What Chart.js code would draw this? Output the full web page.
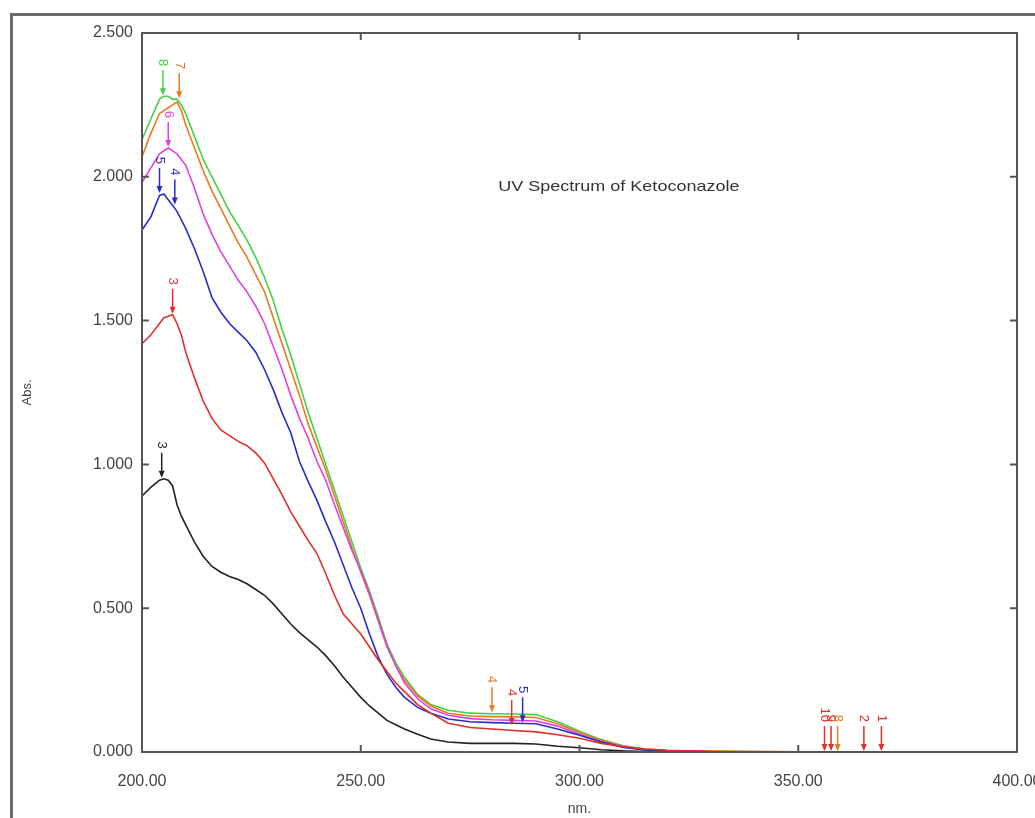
<!DOCTYPE html>
<html>
<head>
<meta charset="utf-8">
<script src="https://cdn.jsdelivr.net/npm/chart.js@4/dist/chart.umd.min.js"></script>
<style>
    html, body { margin: 0; padding: 0; background: #fff; }
    #wrap { width: 1035px; height: 818px; position: relative; }
</style>
</head>
<body>
<div id="wrap"><canvas id="chart" width="1035" height="818"></canvas></div>
<script>
// wavelength grid (nm) shared by all six spectra
const wavelengths = [200, 202, 204, 205, 206, 207, 208, 209, 210, 212, 214, 216, 218, 220, 222, 224, 226, 228, 230,
    232, 234, 236, 238, 240, 242, 244, 246, 248, 250, 252, 254, 256, 258, 260, 263, 266, 270, 275, 280, 285, 290,
    295, 300, 305, 310, 315, 320, 330, 340, 350]

const absBlack = [0.89, 0.92, 0.945, 0.95, 0.945, 0.925, 0.86, 0.82, 0.79, 0.73, 0.68, 0.645, 0.625, 0.61, 0.60, 0.585, 0.565, 0.545, 0.515,
    0.48, 0.445, 0.415, 0.39, 0.365, 0.335, 0.30, 0.26, 0.225, 0.19, 0.16, 0.135, 0.11, 0.095, 0.08, 0.062, 0.045, 0.035, 0.03, 0.03, 0.03, 0.028,
    0.02, 0.015, 0.008, 0.004, 0.002, 0.001, 0, 0, 0]
const absRed = [1.42, 1.45, 1.49, 1.51, 1.515, 1.52, 1.49, 1.45, 1.39, 1.30, 1.22, 1.16, 1.12, 1.10, 1.08, 1.065, 1.04, 1.005, 0.95,
    0.895, 0.835, 0.785, 0.735, 0.69, 0.62, 0.545, 0.48, 0.445, 0.41, 0.365, 0.32, 0.28, 0.24, 0.21, 0.165, 0.135, 0.10, 0.085, 0.08, 0.075, 0.07,
    0.06, 0.048, 0.03, 0.018, 0.01, 0.006, 0.002, 0, 0]
const absBlue = [1.815, 1.86, 1.935, 1.94, 1.92, 1.90, 1.88, 1.85, 1.82, 1.75, 1.67, 1.58, 1.53, 1.49, 1.46, 1.43, 1.39, 1.33, 1.26,
    1.18, 1.11, 1.01, 0.94, 0.875, 0.80, 0.73, 0.65, 0.57, 0.50, 0.41, 0.33, 0.27, 0.225, 0.19, 0.155, 0.135, 0.115, 0.105, 0.102, 0.10, 0.098,
    0.08, 0.058, 0.035, 0.016, 0.007, 0.003, 0.001, 0, 0]
const absMagenta = [1.98, 2.03, 2.08, 2.09, 2.10, 2.09, 2.08, 2.06, 2.04, 1.96, 1.87, 1.80, 1.74, 1.69, 1.64, 1.60, 1.55, 1.49, 1.41,
    1.33, 1.24, 1.16, 1.09, 1.01, 0.945, 0.86, 0.78, 0.70, 0.63, 0.55, 0.46, 0.37, 0.30, 0.24, 0.185, 0.15, 0.128, 0.116, 0.112, 0.11, 0.108,
    0.09, 0.062, 0.036, 0.018, 0.008, 0.004, 0.001, 0, 0]
const absOrange = [2.07, 2.15, 2.22, 2.23, 2.24, 2.25, 2.26, 2.23, 2.18, 2.10, 2.02, 1.95, 1.89, 1.83, 1.77, 1.72, 1.66, 1.60, 1.51,
    1.42, 1.33, 1.24, 1.14, 1.06, 0.98, 0.89, 0.80, 0.71, 0.625, 0.545, 0.455, 0.365, 0.30, 0.25, 0.195, 0.16, 0.135, 0.125, 0.123, 0.122, 0.12,
    0.098, 0.068, 0.04, 0.02, 0.009, 0.005, 0.003, 0.002, 0.001]
const absGreen = [2.13, 2.20, 2.27, 2.28, 2.28, 2.27, 2.27, 2.25, 2.22, 2.14, 2.06, 2.00, 1.94, 1.88, 1.83, 1.78, 1.72, 1.65, 1.57,
    1.47, 1.38, 1.28, 1.18, 1.09, 1.00, 0.91, 0.82, 0.73, 0.64, 0.56, 0.47, 0.375, 0.31, 0.26, 0.20, 0.165, 0.145, 0.135, 0.133, 0.132, 0.13,
    0.105, 0.072, 0.043, 0.022, 0.01, 0.005, 0.002, 0.001, 0]

// peak pick markers
const peakNm = [204.5, 207, 204, 207.5, 206, 208.5, 204.8, 280, 284.5, 287, 356, 357.5, 359, 365, 369]
const peakAbs = [0.95, 1.52, 1.94, 1.90, 2.10, 2.27, 2.28, 0.135, 0.09, 0.10, 0, 0, 0, 0, 0]
const peakText = ['3', '3', '5', '4', '6', '7', '8', '4', '4', '5', '10', '9', '8', '2', '1']
const peakColor = ['#222', '#e0302a', '#2b2bc8', '#2b2bc8', '#e040e0', '#e87a20', '#44d044',
    '#e87a20', '#e0302a', '#2b2bc8', '#e0302a', '#e0302a', '#e87a20', '#e0302a', '#e0302a']

const yTicks = [0, 0.5, 1, 1.5, 2, 2.5]
const xTicks = [200, 250, 300, 350, 400]

const series = [
    { values: absBlack, color: '#222222' },
    { values: absRed, color: '#e0302a' },
    { values: absBlue, color: '#2b2bc8' },
    { values: absMagenta, color: '#e040e0' },
    { values: absOrange, color: '#e87a20' },
    { values: absGreen, color: '#44d044' },
]

const axisColor = '#555'

const boxPlugin = {
    id: 'box',
    beforeDraw(chart) {
        const ctx = chart.ctx
        ctx.save()
        ctx.fillStyle = '#fff'
        ctx.fillRect(0, 0, chart.width, chart.height)
        // outer frame of the original window
        ctx.strokeStyle = '#6a6a6a'
        ctx.lineWidth = 3
        ctx.strokeRect(11.5, 14.5, chart.width + 20, chart.height + 20)
        ctx.restore()
    },
    afterDatasetsDraw(chart) {
        const ctx = chart.ctx
        const a = chart.chartArea
        const xs = chart.scales.x
        const ys = chart.scales.y
        ctx.save()
        ctx.strokeStyle = axisColor
        ctx.lineWidth = 2
        ctx.strokeRect(a.left, a.top, a.right - a.left, a.bottom - a.top)
        // inner ticks on all four sides
        xTicks.forEach(v => {
            const px = xs.getPixelForValue(v)
            ctx.beginPath()
            ctx.moveTo(px, a.bottom); ctx.lineTo(px, a.bottom - 7)
            ctx.moveTo(px, a.top); ctx.lineTo(px, a.top + 7)
            ctx.stroke()
        })
        yTicks.forEach(v => {
            const py = ys.getPixelForValue(v)
            ctx.beginPath()
            ctx.moveTo(a.left, py); ctx.lineTo(a.left + 7, py)
            ctx.moveTo(a.right, py); ctx.lineTo(a.right - 7, py)
            ctx.stroke()
        })

        // peak markers: arrow down to the point, rotated label above
        ctx.lineWidth = 1.5
        ctx.font = '13px Arial, "Liberation Sans", sans-serif'
        peakNm.forEach((nm, i) => {
            const px = xs.getPixelForValue(nm)
            const py = ys.getPixelForValue(peakAbs[i])
            const c = peakColor[i]
            ctx.strokeStyle = c
            ctx.fillStyle = c
            ctx.beginPath()
            ctx.moveTo(px, py - 26); ctx.lineTo(px, py - 3)
            ctx.stroke()
            ctx.beginPath()
            ctx.moveTo(px, py - 1); ctx.lineTo(px - 3, py - 8); ctx.lineTo(px + 3, py - 8)
            ctx.closePath(); ctx.fill()
            ctx.save()
            ctx.translate(px, py - 30)
            ctx.rotate(Math.PI / 2)
            ctx.textAlign = 'right'
            ctx.textBaseline = 'middle'
            ctx.fillText(peakText[i], 0, 0)
            ctx.restore()
        })

        // title inside the plot
        ctx.fillStyle = '#333'
        ctx.font = '15px Arial, "Liberation Sans", sans-serif'
        ctx.textAlign = 'center'
        ctx.textBaseline = 'middle'
        ctx.save()
        ctx.translate(xs.getPixelForValue(309), ys.getPixelForValue(1.965))
        ctx.scale(1.2, 1)
        ctx.fillText('UV Spectrum of Ketoconazole', 0, 0)
        ctx.restore()
        ctx.restore()
    }
}

function instantiateChart() {
    const ctx = document.getElementById('chart').getContext('2d')
    const datasets = series.map(s => ({
        data: wavelengths.map((nm, i) => ({ x: nm, y: s.values[i] })),
        borderColor: s.color,
        borderWidth: 1.6,
        pointRadius: 0,
        tension: 0,
        fill: false,
    }))

    new Chart(ctx, {
        type: 'line',
        data: { datasets },
        options: {
            responsive: false,
            animation: false,
            events: [],
            layout: { padding: { top: 33, right: 18, left: 0, bottom: 0 } },
            plugins: { legend: { display: false }, tooltip: { enabled: false } },
            scales: {
                x: {
                    type: 'linear',
                    min: 200,
                    max: 400,
                    afterFit: scale => {
                        scale.height = 66
                        // let the 400.00 label run off the edge like the original
                        scale.paddingLeft = 0
                        scale.paddingRight = 0
                    },
                    afterBuildTicks: scale => { scale.ticks = xTicks.map(v => ({ value: v })) },
                    grid: { display: false, drawTicks: false },
                    border: { display: false },
                    ticks: {
                        padding: 20,
                        color: '#444',
                        font: { family: 'Arial, "Liberation Sans", sans-serif', size: 16 },
                        callback: v => v.toFixed(2),
                    },
                    title: {
                        display: true,
                        text: 'nm.',
                        color: '#444',
                        padding: { top: 0, bottom: 0 },
                        font: { family: 'Arial, "Liberation Sans", sans-serif', size: 14 },
                    },
                },
                y: {
                    min: 0,
                    max: 2.5,
                    afterFit: scale => {
                        scale.width = 142
                        scale.paddingTop = 0
                        scale.paddingBottom = 0
                    },
                    afterBuildTicks: scale => { scale.ticks = yTicks.map(v => ({ value: v })) },
                    grid: { display: false, drawTicks: false },
                    border: { display: false },
                    ticks: {
                        padding: 9,
                        color: '#444',
                        font: { family: 'Arial, "Liberation Sans", sans-serif', size: 16 },
                        callback: v => v.toFixed(3),
                    },
                    title: {
                        display: true,
                        text: 'Abs.',
                        color: '#444',
                        padding: { top: 20, bottom: 0 },
                        font: { family: 'Arial, "Liberation Sans", sans-serif', size: 13 },
                    },
                },
            },
        },
        plugins: [boxPlugin],
    })
}

instantiateChart()
</script>
</body>
</html>
